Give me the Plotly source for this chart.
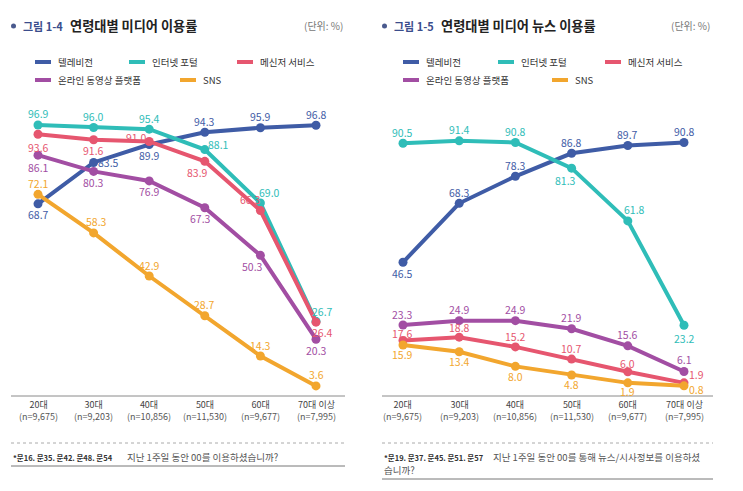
import plotly.graph_objects as go

W, H = 743, 491
FONT = "Noto Sans CJK KR"

# ---------------- data ----------------
age_groups = ["20대", "30대", "40대", "50대", "60대", "70대 이상"]
sample_sizes = ["(n=9,675)", "(n=9,203)", "(n=10,856)", "(n=11,530)", "(n=9,677)", "(n=7,995)"]
series_names = ["텔레비전", "인터넷 포털", "메신저 서비스", "온라인 동영상 플랫폼", "SNS"]

# Figure 1-4: media usage rate by age
usage_tv = [68.7, 83.5, 89.9, 94.3, 95.9, 96.8]
usage_portal = [96.9, 96.0, 95.4, 88.1, 69.0, 26.7]
usage_messenger = [93.6, 91.6, 91.0, 83.9, 66.3, 26.4]
usage_video = [86.1, 80.3, 76.9, 67.3, 50.3, 20.3]
usage_sns = [72.1, 58.3, 42.9, 28.7, 14.3, 3.6]

# Figure 1-5: news usage rate via media by age
news_tv = [46.5, 68.3, 78.3, 86.8, 89.7, 90.8]
news_portal = [90.5, 91.4, 90.8, 81.3, 61.8, 23.2]
news_messenger = [17.6, 18.8, 15.2, 10.7, 6.0, 1.9]
news_video = [23.3, 24.9, 24.9, 21.9, 15.6, 6.1]
news_sns = [15.9, 13.4, 8.0, 4.8, 1.9, 0.8]

# ---------------- styles ----------------
colors = ["#3f5ca6", "#2fbdb8", "#e6566f", "#a24ea3", "#f2a62e"]

# label offsets in px (dx right, dy down)
off_left = [
    [(0, 11), (15, 0), (0, 11), (0, -11), (0, -11), (0, -11)],
    [(0, -11), (0, -11), (0, -11), (14, -5), (9, -11), (6, -10)],
    [(0, 13), (0, 11), (-13, -4), (-7, 11), (-10, -11), (6, 10)],
    [(0, 12), (0, 11), (0, 11), (-4, 11), (-8, 11), (0, 11)],
    [(0, -11), (3, -11), (0, -11), (0, -11), (0, -11), (0, -11)],
]
off_right = [
    [(0, 11), (0, -11), (0, -11), (0, -11), (0, -11), (0, -11)],
    [(0, -11), (0, -11), (0, -11), (-6, 12), (7, -11), (0, 13)],
    [(0, -7), (0, -10), (0, -10), (0, -11), (0, -8), (12, -8)],
    [(0, -11), (0, -11), (0, -11), (0, -11), (0, -11), (0, -12)],
    [(0, 9), (0, 10), (0, 10), (0, 9), (0, 9), (12, 4)],
]

def px(x):
    return x / W

def py(y):
    return 1 - y / H

fig = go.Figure()
annotations = []
shapes = []

def note(x, y, text, size, color, xref="paper", xanchor="left", **kw):
    annotations.append(dict(x=x, y=y, xref=xref, yref="paper", text=text,
                            showarrow=False, xanchor=xanchor, yanchor="middle",
                            font=dict(family=FONT, size=size, color=color), **kw))

panels = [
    dict(xa="x", ya="y", data=[usage_tv, usage_portal, usage_messenger, usage_video, usage_sns],
         offs=off_left, x0=10.2, x1=343.8, y0px=396, scale=2.797,
         left=11, right=345, fig_no="그림 1-4", title="연령대별 미디어 이용률",
         unit_x=345, note_code="*문16. 문35. 문42. 문48. 문54",
         note_text="지난 1주일 동안 00를 이용하셨습니까?", note2=None, note_x=125, solid_y=466),
    dict(xa="x2", ya="y2", data=[news_tv, news_portal, news_messenger, news_video, news_sns],
         offs=off_right, x0=374.9, x1=712.1, y0px=388, scale=2.704,
         left=382, right=713, fig_no="그림 1-5", title="연령대별 미디어 뉴스 이용률",
         unit_x=712, note_code="*문19. 문37. 문45. 문51. 문57",
         note_text="지난 1주일 동안 00를 통해 뉴스/시사정보를 이용하셨", note2="습니까?", note_x=491, solid_y=479),
]

xs = list(range(len(age_groups)))

for p in panels:
    for i, (vals, col) in enumerate(zip(p["data"], colors)):
        fig.add_trace(go.Scatter(
            x=xs, y=vals, mode="lines+markers", name=series_names[i],
            xaxis=p["xa"], yaxis=p["ya"], showlegend=False,
            line=dict(color=col, width=4), marker=dict(color=col, size=9),
            hoverinfo="skip"))
        for j, v in enumerate(vals):
            dx, dy = p["offs"][i][j]
            annotations.append(dict(
                x=j, y=v, xref=p["xa"], yref=p["ya"], text=f"{v:.1f}",
                showarrow=False, xshift=dx, yshift=-dy,
                xanchor="center", yanchor="middle",
                font=dict(family=FONT, size=10.5, color=col)))
    # category tick labels (two lines)
    for j in xs:
        note(j, py(410.5), f"<span style='color:#444'>{age_groups[j]}</span><br>{sample_sizes[j]}",
             9, "#555", xref=p["xa"], xanchor="center")
    # axis baseline
    shapes.append(dict(type="line", xref="paper", yref="paper",
                       x0=px(p["left"]), x1=px(p["right"]), y0=py(396), y1=py(396),
                       line=dict(color="#8a8a8a", width=1)))
    # footnote rules
    shapes.append(dict(type="line", xref="paper", yref="paper",
                       x0=px(p["left"]), x1=px(p["right"]), y0=py(443), y1=py(443),
                       line=dict(color="#aaaaaa", width=1, dash="dot")))
    shapes.append(dict(type="line", xref="paper", yref="paper",
                       x0=px(p["left"]), x1=px(p["right"]), y0=py(p["solid_y"]), y1=py(p["solid_y"]),
                       line=dict(color="#777777", width=1)))
    # header
    shapes.append(dict(type="circle", xref="paper", yref="paper",
                       x0=px(p["left"]), x1=px(p["left"] + 5), y0=py(28.5), y1=py(23.5),
                       fillcolor="#4a5a8e", line=dict(width=0)))
    note(px(p["left"] + 10), py(26), f"<b>{p['fig_no']}</b>", 11, "#3b4d8c")
    note(px(p["left"] + 57), py(26), f"<b>{p['title']}</b>", 13.2, "#222")
    note(px(p["unit_x"]), py(26), "(단위: %)", 10, "#777", xanchor="right")
    # legend
    lx = p["left"] + 24
    leg_pos = [(lx, 62), (lx + 94, 62), (lx + 202, 62), (lx, 80), (lx + 145, 80)]
    if p["xa"] == "x2":
        leg_pos = [(lx - 3, 62), (lx + 92, 62), (lx + 199, 62), (lx - 3, 80), (lx + 146, 80)]
    for i, (ex, ey) in enumerate(leg_pos):
        shapes.append(dict(type="line", xref="paper", yref="paper",
                           x0=px(ex), x1=px(ex + 16), y0=py(ey), y1=py(ey),
                           line=dict(color=colors[i], width=4)))
        note(px(ex + 21), py(ey), series_names[i], 9.5, "#333")
    # footnote
    note(px(p["left"]), py(457), f"<b>{p['note_code']}</b>", 7.5, "#333")
    note(px(p["note_x"]), py(457), p["note_text"], 9.5, "#555")
    if p["note2"]:
        note(px(p["left"]), py(470), p["note2"], 9.5, "#555")

def yrange(y0px, scale):
    return [-(H - y0px) / scale, y0px / scale]

L, R = panels
fig.update_layout(
    width=W, height=H, margin=dict(l=0, r=0, t=0, b=0),
    paper_bgcolor="white", plot_bgcolor="rgba(0,0,0,0)",
    font=dict(family=FONT),
    xaxis=dict(domain=[px(L["x0"]), px(L["x1"])], range=[-0.5, 5.5], visible=False),
    yaxis=dict(domain=[0, 1], range=yrange(L["y0px"], L["scale"]), visible=False),
    xaxis2=dict(domain=[px(R["x0"]), px(R["x1"])], range=[-0.5, 5.5], visible=False, anchor="y2"),
    yaxis2=dict(domain=[0, 1], range=yrange(R["y0px"], R["scale"]), visible=False, anchor="x2"),
    annotations=annotations, shapes=shapes,
)

fig.write_html("out.html")
